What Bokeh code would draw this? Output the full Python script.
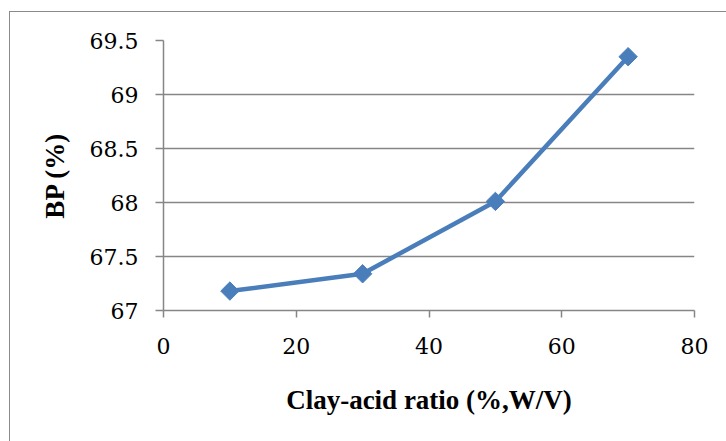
import math
from bokeh.plotting import figure
from bokeh.models import FixedTicker, Range1d
from bokeh.embed import file_html
from bokeh.resources import INLINE

# Data
clay_acid_ratio = [10, 30, 50, 70]
bp_percent = [67.18, 67.34, 68.01, 69.35]
x_ticks = [0, 20, 40, 60, 80]
y_ticks = [67, 67.5, 68, 68.5, 69, 69.5]
y_tick_labels = ["67", "67.5", "68", "68.5", "69", "69.5"]
x_title = "Clay-acid ratio (%,W/V)"
y_title = "BP (%)"

FONT = "Liberation Serif"
TICK_FONT = "DejaVu Serif"
GRID = "#868686"
BLUE = "#4A7EBB"

p = figure(width=717, height=430, output_backend="svg", toolbar_location=None,
           x_range=Range1d(0, 80), y_range=Range1d(67, 69.5),
           min_border_left=153, min_border_right=33, min_border_top=28, min_border_bottom=132)
p.margin = (11, 0, 0, 9)
p.styles = {"border-left": "1px solid #8a8a8a", "border-top": "1px solid #8a8a8a"}
p.outline_line_color = None
p.background_fill_color = "white"
p.border_fill_color = "white"

p.line(clay_acid_ratio, bp_percent, line_color=BLUE, line_width=4.5)
p.scatter(clay_acid_ratio, bp_percent, marker="square", size=13, angle=math.pi / 4,
          fill_color=BLUE, line_color=BLUE)

# x axis
p.xaxis.ticker = FixedTicker(ticks=x_ticks)
p.xaxis.minor_tick_line_color = None
p.xaxis.major_tick_in = 0
p.xaxis.major_tick_out = 7
p.xaxis.axis_line_color = GRID
p.xaxis.axis_line_width = 1.5
p.xaxis.major_tick_line_color = GRID
p.xaxis.major_tick_line_width = 1.5
p.xaxis.major_label_text_font = TICK_FONT
p.xaxis.major_label_text_font_size = "22px"
p.xaxis.major_label_text_color = "black"
p.xaxis.major_label_standoff = 20
p.xaxis.axis_label = x_title
p.xaxis.axis_label_text_font = FONT
p.xaxis.axis_label_text_font_size = "27px"
p.xaxis.axis_label_text_font_style = "bold"
p.xaxis.axis_label_text_color = "black"
p.xaxis.axis_label_standoff = 28

# y axis
p.yaxis.ticker = FixedTicker(ticks=y_ticks)
p.yaxis.major_label_overrides = {t: l for t, l in zip(y_ticks, y_tick_labels)}
p.yaxis.minor_tick_line_color = None
p.yaxis.major_tick_in = 0
p.yaxis.major_tick_out = 8
p.yaxis.axis_line_color = GRID
p.yaxis.axis_line_width = 1.5
p.yaxis.major_tick_line_color = GRID
p.yaxis.major_tick_line_width = 1.5
p.yaxis.major_label_text_font = TICK_FONT
p.yaxis.major_label_text_font_size = "22px"
p.yaxis.major_label_text_color = "black"
p.yaxis.major_label_standoff = 17
p.yaxis.axis_label = y_title
p.yaxis.axis_label_text_font = FONT
p.yaxis.axis_label_text_font_size = "27px"
p.yaxis.axis_label_text_font_style = "bold"
p.yaxis.axis_label_text_color = "black"
p.yaxis.axis_label_standoff = 17

p.xgrid.grid_line_color = None
p.ygrid.grid_line_color = GRID
p.ygrid.grid_line_width = 1.5
p.ygrid.ticker = FixedTicker(ticks=y_ticks)

open("out.html", "w").write(file_html(p, INLINE))
